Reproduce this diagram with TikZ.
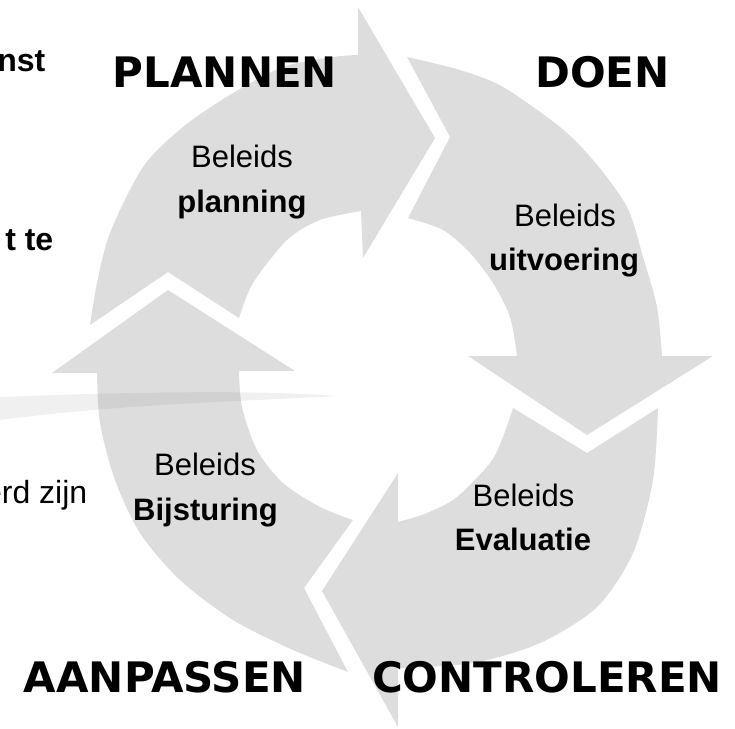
\documentclass[tikz,border=0pt]{standalone}
\usepackage{fontspec}
\setmainfont{Liberation Sans}
\newfontfamily\bigfont{DejaVu Sans}
\definecolor{arrowgray}{RGB}{221,221,221}
\begin{document}
\begin{tikzpicture}[x=1pt,y=1pt,
  arrowfill/.style={fill=arrowgray},
  swoosh/.style={fill=gray,fill opacity=0.12},
  biglabel/.style={font=\bigfont\bfseries\fontsize{42}{50}\selectfont,inner sep=0pt,anchor=base},
  thinlabel/.style={font=\fontsize{31}{36}\selectfont,inner sep=0pt,anchor=base},
  boldlabel/.style={font=\bfseries\fontsize{31}{36}\selectfont,inner sep=0pt,anchor=base},
  fraglabel/.style={font=\fontsize{32}{36}\selectfont,inner sep=0pt,anchor=base east}]
\useasboundingbox (0,0) rectangle (735,-728);
\begin{scope}
\clip (0,0) rectangle (735,-728);
% PLANNEN arrow (top left)
\fill[arrowfill] (90,-325) -- (168,-272) -- (239,-318)
  -- plot[smooth] coordinates {(239,-318) (253,-283) (287,-240) (320,-220) (361,-211)}
  -- (363,-258) -- (435,-138) -- (358,-7) -- (358,-55)
  -- plot[smooth] coordinates {(358,-55) (333,-57) (283,-67) (233,-93) (183,-127) (143,-167) (110,-233) (97,-283) (90,-325)}
  -- cycle;
% DOEN arrow (top right)
\fill[arrowfill] (407,-57) -- (450,-137) -- (408,-218)
  -- plot[smooth] coordinates {(408,-218) (443,-230) (470,-253) (493,-283) (510,-317) (517,-356)}
  -- (468,-356) -- (587,-435) -- (713,-356) -- (662,-356)
  -- plot[smooth] coordinates {(662,-356) (657,-307) (643,-257) (627,-207) (593,-160) (560,-127) (503,-87) (460,-70) (407,-57)}
  -- cycle;
% CONTROLEREN arrow (bottom right)
\fill[arrowfill] (658,-408) -- (587,-453) -- (513,-408)
  -- plot[smooth] coordinates {(513,-408) (503,-437) (490,-463) (457,-497) (427,-513) (398,-522)}
  -- (398,-473) -- (322,-591) -- (398,-727) -- (398,-668)
  -- plot[smooth] coordinates {(398,-668) (473,-663) (540,-643) (597,-607) (633,-553) (653,-480) (658,-408)}
  -- cycle;
% AANPASSEN arrow (bottom left)
\fill[arrowfill] (348,-672) -- (304,-588) -- (353,-520)
  -- plot[smooth] coordinates {(353,-520) (320,-507) (283,-483) (257,-450) (242,-407) (239,-371)}
  -- (295,-371) -- (168,-290) -- (52,-373) -- (97,-373)
  -- plot[smooth] coordinates {(97,-373) (100,-423) (115,-480) (140,-533) (180,-580) (233,-620) (293,-650) (348,-672)}
  -- cycle;
% swoosh
\fill[swoosh] (0,-397) .. controls (100,-393) and (250,-389) .. (336,-396)
  .. controls (250,-401) and (120,-404) .. (0,-420) -- cycle;
% big labels
\node[biglabel] (plannen) at (225,-87) {PLANNEN};
\node[biglabel] (doen) at (602.5,-87) {DOEN};
\node[biglabel] (aanpassen) at (165,-692) {AANPASSEN};
\node[biglabel] (controleren) at (547,-692) {CONTROLEREN};
% inner labels
\node[thinlabel] (planA) at (242,-167) {Beleids};
\node[boldlabel] (planB) at (242,-212) {planning};
\node[thinlabel] (doenA) at (565,-226) {Beleids};
\node[boldlabel] (doenB) at (564,-270) {uitvoering};
\node[thinlabel] (evalA) at (523.5,-506) {Beleids};
\node[boldlabel] (evalB) at (523,-550) {Evaluatie};
\node[thinlabel] (bijA) at (205,-475) {Beleids};
\node[boldlabel] (bijB) at (205.5,-520) {Bijsturing};
% cut-off texts at the left edge
\node[fraglabel,font=\bfseries\fontsize{32}{36}\selectfont] (frag1) at (45.5,-71.7) {nst};
\node[fraglabel,font=\bfseries\fontsize{32}{36}\selectfont] (frag2) at (53.5,-250) {t te};
\node[fraglabel] (frag3) at (87.5,-503.5) {erd zijn};
\end{scope}
\end{tikzpicture}
\end{document}
